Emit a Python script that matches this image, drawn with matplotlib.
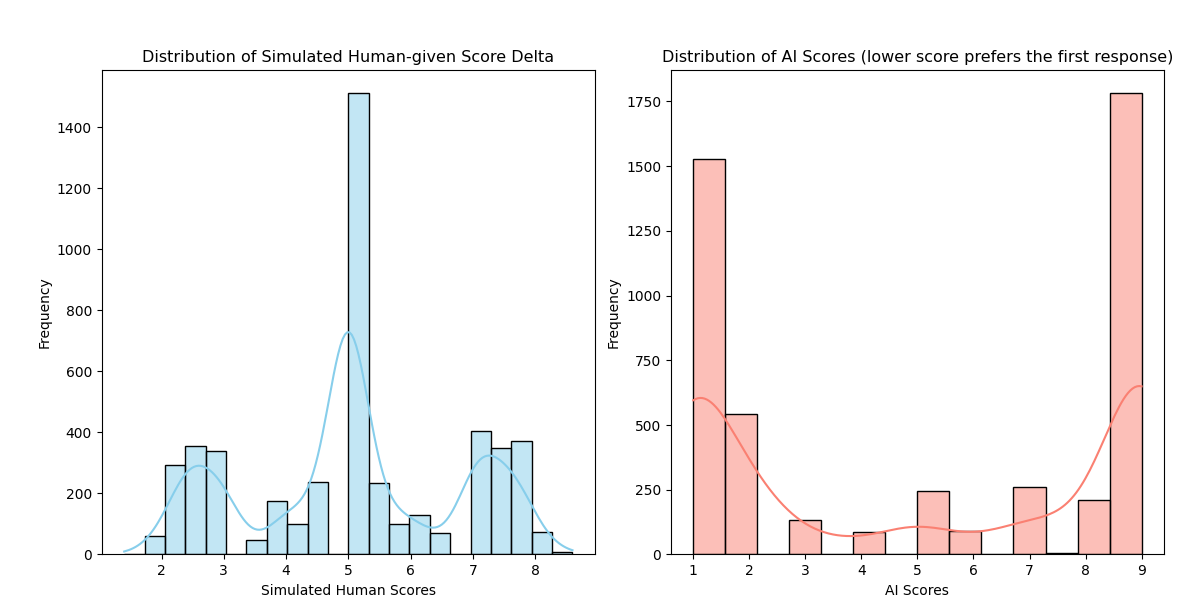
import numpy as np
import matplotlib
matplotlib.use('Agg')
import matplotlib.pyplot as plt
import seaborn as sns

# ── Simulated human scores: one representative value per histogram bin ────
human_values = [1.4, 1.9, 2.3, 2.6, 3.0, 3.6, 4.0, 4.2, 4.6, 4.8,
                 5.0, 5.4, 5.8, 6.0, 6.4, 7.0, 7.3, 7.7, 8.1, 8.6]
human_counts = [3, 59, 294, 354, 338, 48, 175, 99, 238, 2,
                1511, 234, 99, 130, 71, 404, 348, 373, 73, 8]

# ── AI scores (mostly integers, a few half points) ─────────────────────────
ai_values = [1, 2, 3, 4, 4.5, 5, 6, 6.5, 7, 7.5, 8, 9]
ai_counts = [1529, 541, 134, 86, 3, 245, 91, 3, 260, 7, 211, 1781]

human_scores = np.repeat(human_values, human_counts)
ai_scores = np.repeat(ai_values, ai_counts)

fig, axes = plt.subplots(1, 2, figsize=(12, 6.07), dpi=100)
fig.subplots_adjust(left=0.0848, right=0.97, bottom=0.0865, top=0.884, wspace=0.154)

sns.histplot(human_scores, bins=22, kde=True, color='skyblue', edgecolor='black', ax=axes[0])
axes[0].set_title('Distribution of Simulated Human-given Score Delta', fontsize=11.5)
axes[0].set_xlabel('Simulated Human Scores')
axes[0].set_ylabel('Frequency')

sns.histplot(ai_scores, bins=14, kde=True, color='salmon', edgecolor='black', ax=axes[1])
axes[1].set_title('Distribution of AI Scores (lower score prefers the first response)', fontsize=11.5)
axes[1].set_xlabel('AI Scores')
axes[1].set_ylabel('Frequency')

plt.savefig('out.png', dpi=100)
